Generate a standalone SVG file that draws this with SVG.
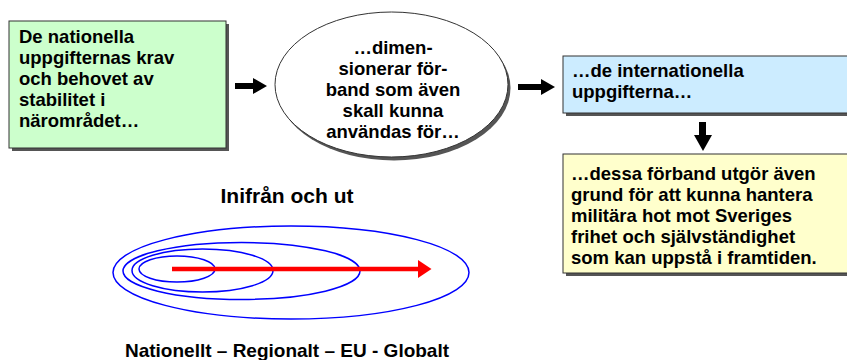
<svg xmlns="http://www.w3.org/2000/svg" width="847" height="360" viewBox="0 0 847 360">
<style>
  .t { font-family: "Liberation Sans", Arial, sans-serif; font-weight: bold; font-size: 18.5px; fill: #000; }
  .c { text-anchor: middle; }
  .shadow { fill: #555; stroke: none; }
  .box { stroke: #333; stroke-width: 1; }
  .ring { fill: none; stroke: #0000ff; stroke-width: 1.5; }
  .blk { fill: #000; }
</style>
<defs>
  <marker id="redhead" markerWidth="4" markerHeight="4" refX="0" refY="2" orient="auto" markerUnits="strokeWidth">
    <path d="M0,0 L3,2 L0,4 Z" fill="#ff0000"/>
  </marker>
</defs>

<g id="node-national">
  <rect class="shadow" x="12" y="24" width="217" height="127"/>
  <rect class="box" x="9" y="21" width="217" height="127" fill="#ccffcc"/>
  <text class="t" x="19" y="43">De nationella</text>
  <text class="t" x="19" y="64">uppgifternas krav</text>
  <text class="t" x="19" y="85">och behovet av</text>
  <text class="t" x="19" y="106">stabilitet i</text>
  <text class="t" x="19" y="127">närområdet…</text>
</g>

<g id="node-dimension">
  <ellipse class="shadow" cx="394" cy="88" rx="116.5" ry="72.5"/>
  <ellipse class="box" cx="391.5" cy="84.5" rx="116.5" ry="72.5" fill="#fff"/>
  <text class="t c" x="393" y="54">…dimen-</text>
  <text class="t c" x="393" y="75">sionerar för-</text>
  <text class="t c" x="393" y="96">band som även</text>
  <text class="t c" x="393" y="117">skall kunna</text>
  <text class="t c" x="393" y="138">användas för…</text>
</g>

<g id="node-international">
  <rect class="shadow" x="566" y="59" width="290" height="57"/>
  <rect class="box" x="563" y="56" width="290" height="57" fill="#ccecff"/>
  <text class="t" x="572" y="77">…de internationella</text>
  <text class="t" x="572" y="98">uppgifterna…</text>
</g>

<g id="node-defense">
  <rect class="shadow" x="566" y="157" width="290" height="119"/>
  <rect class="box" x="563" y="154" width="290" height="119" fill="#ffffcc"/>
  <text class="t" x="571" y="180">…dessa förband utgör även</text>
  <text class="t" x="571" y="201">grund för att kunna hantera</text>
  <text class="t" x="571" y="222">militära hot mot Sveriges</text>
  <text class="t" x="571" y="243">frihet och självständighet</text>
  <text class="t" x="571" y="264">som kan uppstå i framtiden.</text>
</g>

<g id="connectors">
  <path class="blk" d="M235,83 L253,83 L253,78 L267,86 L253,94 L253,89 L235,89 Z"/>
  <path class="blk" d="M518,84 L541,84 L541,79 L555,87 L541,95 L541,90 L518,90 Z"/>
  <path class="blk" d="M699,122 L706,122 L706,135 L712,135 L703,151 L694,135 L699,135 Z"/>
</g>

<g id="scope-diagram">
  <text class="t c" x="287" y="203" style="font-size:21px">Inifrån och ut</text>
  <ellipse class="ring" cx="291" cy="272.5" rx="178" ry="46.5"/>
  <ellipse class="ring" cx="241.5" cy="271" rx="118.5" ry="28.5"/>
  <ellipse class="ring" cx="202.5" cy="270.5" rx="70.5" ry="21.5"/>
  <ellipse class="ring" cx="177" cy="269" rx="38" ry="13"/>
  <line x1="172" y1="269" x2="418" y2="269" stroke="#ff0000" stroke-width="4.5" marker-end="url(#redhead)"/>
  <text class="t c" x="287" y="357" style="font-size:19px">Nationellt – Regionalt – EU - Globalt</text>
</g>
</svg>
